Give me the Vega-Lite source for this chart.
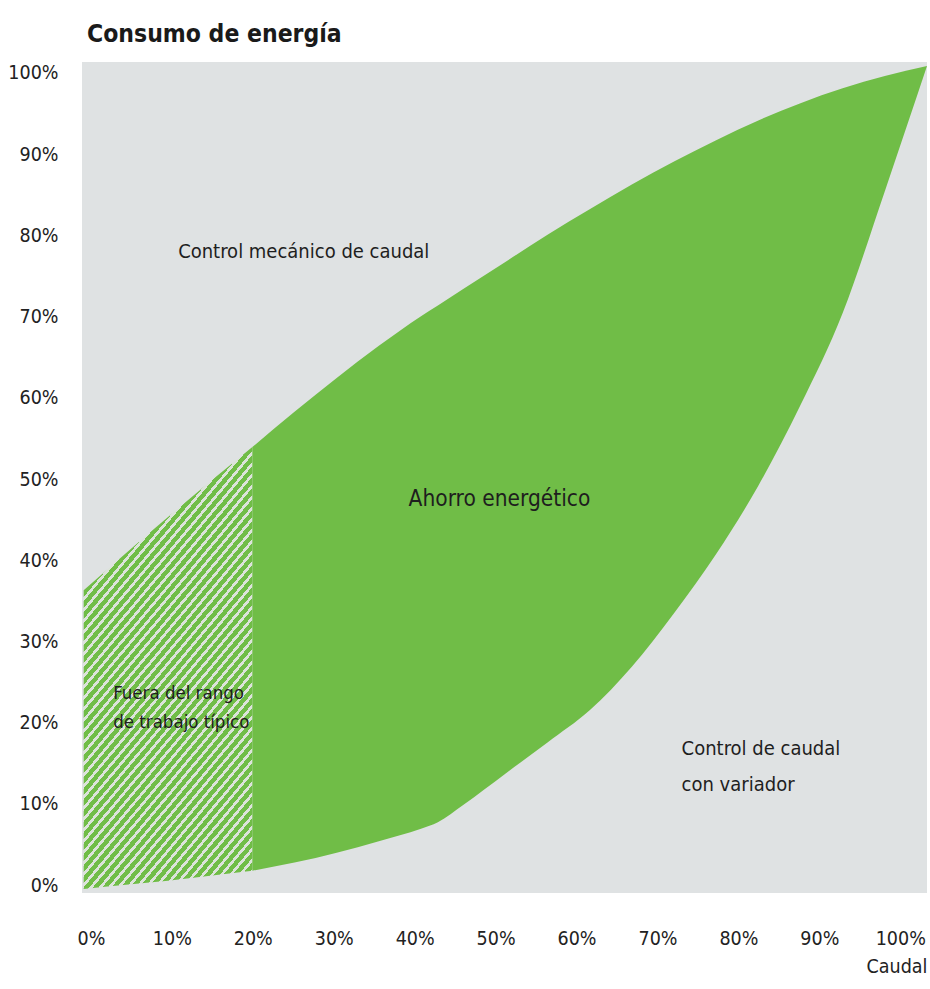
{
  "$schema": "https://vega.github.io/schema/vega-lite/v6.json",
  "width": 845,
  "height": 831,
  "autosize": {"type": "none"},
  "padding": {"left": 82, "top": 62, "right": 3, "bottom": 96},
  "background": "white",
  "config": {
    "view": {"fill": "#dfe2e3", "stroke": null},
    "font": "Liberation Sans Narrow, DejaVu Sans Condensed, Liberation Sans, sans-serif"
  },
  "title": {
    "text": "Consumo de energía",
    "anchor": "start",
    "frame": "group",
    "fontSize": 24.5,
    "fontWeight": "bold",
    "color": "#1a1a1a",
    "baseline": "alphabetic",
    "offset": 24,
    "dx": 5,
    "dy": 28
  },
  "datasets": {
    "curvas": [
      {"caudal": 0, "mecanico": 36.3, "variador": 0.0},
      {"caudal": 5, "mecanico": 40.8, "variador": 0.5},
      {"caudal": 10, "mecanico": 45.2, "variador": 1.0},
      {"caudal": 15, "mecanico": 49.5, "variador": 1.6},
      {"caudal": 20, "mecanico": 53.7, "variador": 2.2},
      {"caudal": 25, "mecanico": 58.0, "variador": 3.2},
      {"caudal": 30, "mecanico": 62.1, "variador": 4.4},
      {"caudal": 35, "mecanico": 66.0, "variador": 5.8},
      {"caudal": 40, "mecanico": 69.6, "variador": 7.3},
      {"caudal": 42, "mecanico": 70.9, "variador": 8.1},
      {"caudal": 45, "mecanico": 72.9, "variador": 10.2},
      {"caudal": 50, "mecanico": 76.2, "variador": 14.0},
      {"caudal": 55, "mecanico": 79.5, "variador": 17.8},
      {"caudal": 60, "mecanico": 82.6, "variador": 21.7},
      {"caudal": 65, "mecanico": 85.6, "variador": 27.0},
      {"caudal": 70, "mecanico": 88.4, "variador": 33.5},
      {"caudal": 75, "mecanico": 91.0, "variador": 40.7},
      {"caudal": 80, "mecanico": 93.4, "variador": 49.0},
      {"caudal": 85, "mecanico": 95.5, "variador": 58.8},
      {"caudal": 90, "mecanico": 97.3, "variador": 70.0},
      {"caudal": 95, "mecanico": 98.8, "variador": 84.8},
      {"caudal": 100, "mecanico": 100.0, "variador": 100.0}
    ],
    "ejes": [{"x": 0, "y": 0}]
  },
  "layer": [
    {
      "layer": [
        {
          "data": {"name": "curvas"},
          "transform": [{"filter": "datum.caudal <= 20"}],
          "mark": {
            "type": "area",
            "interpolate": "monotone",
            "fill": {
              "gradient": "linear",
              "x1": 0, "y1": 0, "x2": 0.94, "y2": 2.063,
              "stops": [
                {"offset": 0, "color": "#70bd47"}, {"offset": 0.0062, "color": "#70bd47"}, {"offset": 0.0062, "color": "#dce3da"}, {"offset": 0.01, "color": "#dce3da"},
                {"offset": 0.01, "color": "#70bd47"}, {"offset": 0.0162, "color": "#70bd47"}, {"offset": 0.0162, "color": "#dce3da"}, {"offset": 0.02, "color": "#dce3da"},
                {"offset": 0.02, "color": "#70bd47"}, {"offset": 0.0262, "color": "#70bd47"}, {"offset": 0.0262, "color": "#dce3da"}, {"offset": 0.03, "color": "#dce3da"},
                {"offset": 0.03, "color": "#70bd47"}, {"offset": 0.0362, "color": "#70bd47"}, {"offset": 0.0362, "color": "#dce3da"}, {"offset": 0.04, "color": "#dce3da"},
                {"offset": 0.04, "color": "#70bd47"}, {"offset": 0.0462, "color": "#70bd47"}, {"offset": 0.0462, "color": "#dce3da"}, {"offset": 0.05, "color": "#dce3da"},
                {"offset": 0.05, "color": "#70bd47"}, {"offset": 0.0562, "color": "#70bd47"}, {"offset": 0.0562, "color": "#dce3da"}, {"offset": 0.06, "color": "#dce3da"},
                {"offset": 0.06, "color": "#70bd47"}, {"offset": 0.0662, "color": "#70bd47"}, {"offset": 0.0662, "color": "#dce3da"}, {"offset": 0.07, "color": "#dce3da"},
                {"offset": 0.07, "color": "#70bd47"}, {"offset": 0.0762, "color": "#70bd47"}, {"offset": 0.0762, "color": "#dce3da"}, {"offset": 0.08, "color": "#dce3da"},
                {"offset": 0.08, "color": "#70bd47"}, {"offset": 0.0862, "color": "#70bd47"}, {"offset": 0.0862, "color": "#dce3da"}, {"offset": 0.09, "color": "#dce3da"},
                {"offset": 0.09, "color": "#70bd47"}, {"offset": 0.0962, "color": "#70bd47"}, {"offset": 0.0962, "color": "#dce3da"}, {"offset": 0.10, "color": "#dce3da"},
                {"offset": 0.10, "color": "#70bd47"}, {"offset": 0.1062, "color": "#70bd47"}, {"offset": 0.1062, "color": "#dce3da"}, {"offset": 0.11, "color": "#dce3da"},
                {"offset": 0.11, "color": "#70bd47"}, {"offset": 0.1162, "color": "#70bd47"}, {"offset": 0.1162, "color": "#dce3da"}, {"offset": 0.12, "color": "#dce3da"},
                {"offset": 0.12, "color": "#70bd47"}, {"offset": 0.1262, "color": "#70bd47"}, {"offset": 0.1262, "color": "#dce3da"}, {"offset": 0.13, "color": "#dce3da"},
                {"offset": 0.13, "color": "#70bd47"}, {"offset": 0.1362, "color": "#70bd47"}, {"offset": 0.1362, "color": "#dce3da"}, {"offset": 0.14, "color": "#dce3da"},
                {"offset": 0.14, "color": "#70bd47"}, {"offset": 0.1462, "color": "#70bd47"}, {"offset": 0.1462, "color": "#dce3da"}, {"offset": 0.15, "color": "#dce3da"},
                {"offset": 0.15, "color": "#70bd47"}, {"offset": 0.1562, "color": "#70bd47"}, {"offset": 0.1562, "color": "#dce3da"}, {"offset": 0.16, "color": "#dce3da"},
                {"offset": 0.16, "color": "#70bd47"}, {"offset": 0.1662, "color": "#70bd47"}, {"offset": 0.1662, "color": "#dce3da"}, {"offset": 0.17, "color": "#dce3da"},
                {"offset": 0.17, "color": "#70bd47"}, {"offset": 0.1762, "color": "#70bd47"}, {"offset": 0.1762, "color": "#dce3da"}, {"offset": 0.18, "color": "#dce3da"},
                {"offset": 0.18, "color": "#70bd47"}, {"offset": 0.1862, "color": "#70bd47"}, {"offset": 0.1862, "color": "#dce3da"}, {"offset": 0.19, "color": "#dce3da"},
                {"offset": 0.19, "color": "#70bd47"}, {"offset": 0.1962, "color": "#70bd47"}, {"offset": 0.1962, "color": "#dce3da"}, {"offset": 0.20, "color": "#dce3da"},
                {"offset": 0.20, "color": "#70bd47"}, {"offset": 0.2062, "color": "#70bd47"}, {"offset": 0.2062, "color": "#dce3da"}, {"offset": 0.21, "color": "#dce3da"},
                {"offset": 0.21, "color": "#70bd47"}, {"offset": 0.2162, "color": "#70bd47"}, {"offset": 0.2162, "color": "#dce3da"}, {"offset": 0.22, "color": "#dce3da"},
                {"offset": 0.22, "color": "#70bd47"}, {"offset": 0.2262, "color": "#70bd47"}, {"offset": 0.2262, "color": "#dce3da"}, {"offset": 0.23, "color": "#dce3da"},
                {"offset": 0.23, "color": "#70bd47"}, {"offset": 0.2362, "color": "#70bd47"}, {"offset": 0.2362, "color": "#dce3da"}, {"offset": 0.24, "color": "#dce3da"},
                {"offset": 0.24, "color": "#70bd47"}, {"offset": 0.2462, "color": "#70bd47"}, {"offset": 0.2462, "color": "#dce3da"}, {"offset": 0.25, "color": "#dce3da"},
                {"offset": 0.25, "color": "#70bd47"}, {"offset": 0.2562, "color": "#70bd47"}, {"offset": 0.2562, "color": "#dce3da"}, {"offset": 0.26, "color": "#dce3da"},
                {"offset": 0.26, "color": "#70bd47"}, {"offset": 0.2662, "color": "#70bd47"}, {"offset": 0.2662, "color": "#dce3da"}, {"offset": 0.27, "color": "#dce3da"},
                {"offset": 0.27, "color": "#70bd47"}, {"offset": 0.2762, "color": "#70bd47"}, {"offset": 0.2762, "color": "#dce3da"}, {"offset": 0.28, "color": "#dce3da"},
                {"offset": 0.28, "color": "#70bd47"}, {"offset": 0.2862, "color": "#70bd47"}, {"offset": 0.2862, "color": "#dce3da"}, {"offset": 0.29, "color": "#dce3da"},
                {"offset": 0.29, "color": "#70bd47"}, {"offset": 0.2962, "color": "#70bd47"}, {"offset": 0.2962, "color": "#dce3da"}, {"offset": 0.30, "color": "#dce3da"},
                {"offset": 0.30, "color": "#70bd47"}, {"offset": 0.3062, "color": "#70bd47"}, {"offset": 0.3062, "color": "#dce3da"}, {"offset": 0.31, "color": "#dce3da"},
                {"offset": 0.31, "color": "#70bd47"}, {"offset": 0.3162, "color": "#70bd47"}, {"offset": 0.3162, "color": "#dce3da"}, {"offset": 0.32, "color": "#dce3da"},
                {"offset": 0.32, "color": "#70bd47"}, {"offset": 0.3262, "color": "#70bd47"}, {"offset": 0.3262, "color": "#dce3da"}, {"offset": 0.33, "color": "#dce3da"},
                {"offset": 0.33, "color": "#70bd47"}, {"offset": 0.3362, "color": "#70bd47"}, {"offset": 0.3362, "color": "#dce3da"}, {"offset": 0.34, "color": "#dce3da"},
                {"offset": 0.34, "color": "#70bd47"}, {"offset": 0.3462, "color": "#70bd47"}, {"offset": 0.3462, "color": "#dce3da"}, {"offset": 0.35, "color": "#dce3da"},
                {"offset": 0.35, "color": "#70bd47"}, {"offset": 0.3562, "color": "#70bd47"}, {"offset": 0.3562, "color": "#dce3da"}, {"offset": 0.36, "color": "#dce3da"},
                {"offset": 0.36, "color": "#70bd47"}, {"offset": 0.3662, "color": "#70bd47"}, {"offset": 0.3662, "color": "#dce3da"}, {"offset": 0.37, "color": "#dce3da"},
                {"offset": 0.37, "color": "#70bd47"}, {"offset": 0.3762, "color": "#70bd47"}, {"offset": 0.3762, "color": "#dce3da"}, {"offset": 0.38, "color": "#dce3da"},
                {"offset": 0.38, "color": "#70bd47"}, {"offset": 0.3862, "color": "#70bd47"}, {"offset": 0.3862, "color": "#dce3da"}, {"offset": 0.39, "color": "#dce3da"},
                {"offset": 0.39, "color": "#70bd47"}, {"offset": 0.3962, "color": "#70bd47"}, {"offset": 0.3962, "color": "#dce3da"}, {"offset": 0.40, "color": "#dce3da"},
                {"offset": 0.40, "color": "#70bd47"}, {"offset": 0.4062, "color": "#70bd47"}, {"offset": 0.4062, "color": "#dce3da"}, {"offset": 0.41, "color": "#dce3da"},
                {"offset": 0.41, "color": "#70bd47"}, {"offset": 0.4162, "color": "#70bd47"}, {"offset": 0.4162, "color": "#dce3da"}, {"offset": 0.42, "color": "#dce3da"},
                {"offset": 0.42, "color": "#70bd47"}, {"offset": 0.4262, "color": "#70bd47"}, {"offset": 0.4262, "color": "#dce3da"}, {"offset": 0.43, "color": "#dce3da"},
                {"offset": 0.43, "color": "#70bd47"}, {"offset": 0.4362, "color": "#70bd47"}, {"offset": 0.4362, "color": "#dce3da"}, {"offset": 0.44, "color": "#dce3da"},
                {"offset": 0.44, "color": "#70bd47"}, {"offset": 0.4462, "color": "#70bd47"}, {"offset": 0.4462, "color": "#dce3da"}, {"offset": 0.45, "color": "#dce3da"},
                {"offset": 0.45, "color": "#70bd47"}, {"offset": 0.4562, "color": "#70bd47"}, {"offset": 0.4562, "color": "#dce3da"}, {"offset": 0.46, "color": "#dce3da"},
                {"offset": 0.46, "color": "#70bd47"}, {"offset": 0.4662, "color": "#70bd47"}, {"offset": 0.4662, "color": "#dce3da"}, {"offset": 0.47, "color": "#dce3da"},
                {"offset": 0.47, "color": "#70bd47"}, {"offset": 0.4762, "color": "#70bd47"}, {"offset": 0.4762, "color": "#dce3da"}, {"offset": 0.48, "color": "#dce3da"},
                {"offset": 0.48, "color": "#70bd47"}, {"offset": 0.4862, "color": "#70bd47"}, {"offset": 0.4862, "color": "#dce3da"}, {"offset": 0.49, "color": "#dce3da"},
                {"offset": 0.49, "color": "#70bd47"}, {"offset": 0.4962, "color": "#70bd47"}, {"offset": 0.4962, "color": "#dce3da"}, {"offset": 0.50, "color": "#dce3da"},
                {"offset": 0.50, "color": "#70bd47"}, {"offset": 0.5062, "color": "#70bd47"}, {"offset": 0.5062, "color": "#dce3da"}, {"offset": 0.51, "color": "#dce3da"},
                {"offset": 0.51, "color": "#70bd47"}, {"offset": 0.5162, "color": "#70bd47"}, {"offset": 0.5162, "color": "#dce3da"}, {"offset": 0.52, "color": "#dce3da"},
                {"offset": 0.52, "color": "#70bd47"}, {"offset": 0.5262, "color": "#70bd47"}, {"offset": 0.5262, "color": "#dce3da"}, {"offset": 0.53, "color": "#dce3da"},
                {"offset": 0.53, "color": "#70bd47"}, {"offset": 0.5362, "color": "#70bd47"}, {"offset": 0.5362, "color": "#dce3da"}, {"offset": 0.54, "color": "#dce3da"},
                {"offset": 0.54, "color": "#70bd47"}, {"offset": 0.5462, "color": "#70bd47"}, {"offset": 0.5462, "color": "#dce3da"}, {"offset": 0.55, "color": "#dce3da"},
                {"offset": 0.55, "color": "#70bd47"}, {"offset": 0.5562, "color": "#70bd47"}, {"offset": 0.5562, "color": "#dce3da"}, {"offset": 0.56, "color": "#dce3da"},
                {"offset": 0.56, "color": "#70bd47"}, {"offset": 0.5662, "color": "#70bd47"}, {"offset": 0.5662, "color": "#dce3da"}, {"offset": 0.57, "color": "#dce3da"},
                {"offset": 0.57, "color": "#70bd47"}, {"offset": 0.5762, "color": "#70bd47"}, {"offset": 0.5762, "color": "#dce3da"}, {"offset": 0.58, "color": "#dce3da"},
                {"offset": 0.58, "color": "#70bd47"}, {"offset": 0.5862, "color": "#70bd47"}, {"offset": 0.5862, "color": "#dce3da"}, {"offset": 0.59, "color": "#dce3da"},
                {"offset": 0.59, "color": "#70bd47"}, {"offset": 0.5962, "color": "#70bd47"}, {"offset": 0.5962, "color": "#dce3da"}, {"offset": 0.60, "color": "#dce3da"}
              ]
            }
          },
          "encoding": {
            "x": {
              "field": "caudal", "type": "quantitative",
              "scale": {"domain": [-0.2, 100], "nice": false, "zero": false},
              "axis": {"values": [10, 20, 30, 40, 50, 60, 70, 80, 90], "labels": false, "ticks": false, "domain": false, "title": null, "grid": true, "gridColor": "white", "gridWidth": 2.5, "gridOpacity": 1}
            },
            "y": {
              "field": "mecanico", "type": "quantitative",
              "scale": {"domain": [-0.5, 100.5], "nice": false, "zero": false},
              "axis": {"values": [0, 10, 20, 30, 40, 50, 60, 70, 80, 90], "labels": false, "ticks": false, "domain": false, "title": null, "grid": true, "gridColor": "white", "gridWidth": 2.5, "gridOpacity": 1}
            },
            "y2": {"field": "variador"}
          }
        },
        {
          "data": {"name": "curvas"},
          "transform": [{"filter": "datum.caudal >= 20"}],
          "mark": {"type": "area", "interpolate": "monotone", "fill": "#70bd47"},
          "encoding": {
            "x": {
              "field": "caudal", "type": "quantitative",
              "scale": {"domain": [-0.2, 100], "nice": false, "zero": false},
              "axis": {"values": [10, 20, 30, 40, 50, 60, 70, 80, 90], "labels": false, "ticks": false, "domain": false, "title": null, "grid": true, "gridColor": "white", "gridWidth": 2.5, "gridOpacity": 1}
            },
            "y": {
              "field": "mecanico", "type": "quantitative",
              "scale": {"domain": [-0.5, 100.5], "nice": false, "zero": false},
              "axis": {"values": [0, 10, 20, 30, 40, 50, 60, 70, 80, 90], "labels": false, "ticks": false, "domain": false, "title": null, "grid": true, "gridColor": "white", "gridWidth": 2.5, "gridOpacity": 1}
            },
            "y2": {"field": "variador"}
          }
        },
        {
          "data": {"values": [
            {"texto": "Control mecánico de caudal", "x": 11.2, "y": 77.4},
            {"texto": "Control de caudal", "x": 70.9, "y": 17.0},
            {"texto": "con variador", "x": 70.9, "y": 12.6}
          ]},
          "mark": {"type": "text", "align": "left", "baseline": "middle", "fontSize": 20, "color": "#1e1e1e"},
          "encoding": {
            "x": {"field": "x", "type": "quantitative", "scale": {"domain": [-0.2, 100], "nice": false, "zero": false}, "axis": null},
            "y": {"field": "y", "type": "quantitative", "scale": {"domain": [-0.5, 100.5], "nice": false, "zero": false}, "axis": null},
            "text": {"field": "texto"}
          }
        },
        {
          "data": {"values": [
            {"texto": "Fuera del rango", "x": 3.5, "y": 23.8},
            {"texto": "de trabajo típico", "x": 3.5, "y": 20.3}
          ]},
          "mark": {"type": "text", "align": "left", "baseline": "middle", "fontSize": 18.5, "color": "#1e1e1e"},
          "encoding": {
            "x": {"field": "x", "type": "quantitative", "scale": {"domain": [-0.2, 100], "nice": false, "zero": false}, "axis": null},
            "y": {"field": "y", "type": "quantitative", "scale": {"domain": [-0.5, 100.5], "nice": false, "zero": false}, "axis": null},
            "text": {"field": "texto"}
          }
        },
        {
          "data": {"values": [
            {"texto": "Ahorro energético", "x": 49.3, "y": 47.4}
          ]},
          "mark": {"type": "text", "align": "center", "baseline": "middle", "fontSize": 22.5, "color": "#1e1e1e"},
          "encoding": {
            "x": {"field": "x", "type": "quantitative", "scale": {"domain": [-0.2, 100], "nice": false, "zero": false}, "axis": null},
            "y": {"field": "y", "type": "quantitative", "scale": {"domain": [-0.5, 100.5], "nice": false, "zero": false}, "axis": null},
            "text": {"field": "texto"}
          }
        }
      ]
    },
    {
      "data": {"name": "ejes"},
      "mark": {"type": "point", "opacity": 0},
      "encoding": {
        "x": {
          "field": "x", "type": "quantitative",
          "scale": {"domain": [-1.1, 103.3], "nice": false, "zero": false},
          "axis": {
            "orient": "bottom",
            "values": [0, 10, 20, 30, 40, 50, 60, 70, 80, 90, 100],
            "labelExpr": "datum.value + '%'",
            "grid": false, "ticks": false, "tickSize": 0, "domain": false,
            "labelFontSize": 19.5, "labelColor": "#222222", "labelPadding": 36,
            "labelFlush": false, "labelOverlap": false,
            "title": "Caudal", "titleAnchor": "end", "titleAlign": "right",
            "titleFontSize": 19.5, "titleFontWeight": "normal", "titleColor": "#222222", "titlePadding": 10
          }
        },
        "y": {
          "field": "y", "type": "quantitative",
          "scale": {"domain": [-0.98, 101.35], "nice": false, "zero": false},
          "axis": {
            "orient": "left",
            "values": [0, 10, 20, 30, 40, 50, 60, 70, 80, 90, 100],
            "labelExpr": "datum.value + '%'",
            "grid": false, "ticks": false, "tickSize": 0, "domain": false,
            "labelFontSize": 19.5, "labelColor": "#222222", "labelPadding": 24,
            "labelOverlap": false,
            "title": null
          }
        }
      }
    }
  ],
  "resolve": {"scale": {"x": "independent", "y": "independent"}}
}
